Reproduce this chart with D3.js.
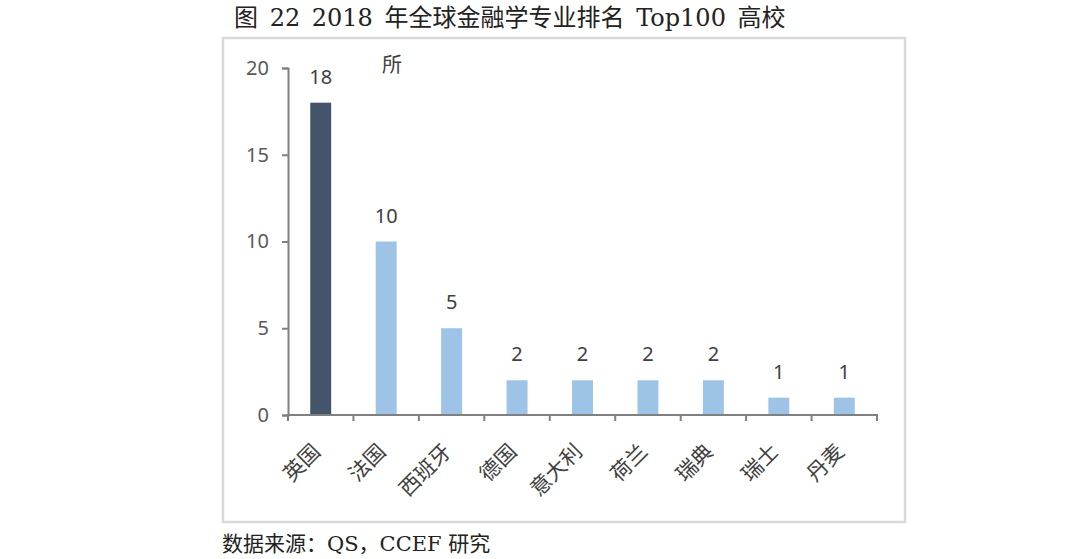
<!DOCTYPE html>
<html lang="zh">
<head>
<meta charset="UTF-8">
<title>2018年全球金融学专业排名Top100高校</title>
<script src="https://d3js.org/d3.v7.min.js"></script>
<style>
    body {
        margin: 0;
        padding: 0;
        background: #fff;
    }
    svg {
        display: block;
    }
    .cn {
        font-family: "DejaVu Serif", "Noto Sans CJK SC", serif;
    }
    .num {
        font-family: "Noto Sans", "Open Sans", sans-serif;
    }
</style>
</head>
<body>
<svg id="chart" width="1080" height="559"></svg>
<script>
    // data
    const countries = ["英国", "法国", "西班牙", "德国", "意大利", "荷兰", "瑞典", "瑞士", "丹麦"];
    const schools = [18, 10, 5, 2, 2, 2, 2, 1, 1];
    const yTicks = [0, 5, 10, 15, 20];

    const svg = d3.select("#chart");

    // outer frame round the chart
    svg.append("rect")
        .attr("x", 223).attr("y", 38)
        .attr("width", 682).attr("height", 484)
        .attr("fill", "#fff")
        .attr("stroke", "#d9d9d9")
        .attr("stroke-width", 2.5);

    svg.append("text")
        .attr("class", "cn")
        .attr("x", 234).attr("y", 26)
        .attr("font-size", 24)
        .attr("word-spacing", 4)
        .attr("fill", "#222")
        .text("图 22 2018 年全球金融学专业排名 Top100 高校");

    svg.append("text")
        .attr("class", "cn")
        .attr("x", 222).attr("y", 551)
        .attr("font-size", 21)
        .attr("fill", "#222")
        .text("数据来源：QS，CCEF 研究");

    const x = d3.scaleBand()
        .domain(countries)
        .range([288, 877])
        .paddingInner(0.68)
        .paddingOuter(0.34);

    const y = d3.scaleLinear()
        .domain([0, 20])
        .range([415, 68]);

    // bars
    svg.append("g")
        .selectAll("rect")
        .data(countries)
        .join("rect")
        .attr("x", d => x(d))
        .attr("y", (d, i) => y(schools[i]))
        .attr("width", x.bandwidth())
        .attr("height", (d, i) => y(0) - y(schools[i]))
        .attr("fill", (d, i) => i === 0 ? "#44546a" : "#9dc3e6");

    // value labels
    svg.append("g")
        .selectAll("text")
        .data(countries)
        .join("text")
        .attr("class", "num")
        .attr("x", d => x(d) + x.bandwidth() / 2)
        .attr("y", (d, i) => y(schools[i]) - 19)
        .attr("text-anchor", "middle")
        .attr("font-size", 20)
        .attr("fill", "#404040")
        .text((d, i) => schools[i]);

    // y axis
    const yAxis = svg.append("g")
        .attr("transform", "translate(288,0)")
        .call(d3.axisLeft(y).tickValues(yTicks).tickSize(6).tickPadding(13));
    yAxis.select(".domain").attr("stroke", "#808080").attr("stroke-width", 2);
    yAxis.selectAll(".tick line").attr("stroke", "#808080").attr("stroke-width", 2);
    yAxis.selectAll(".tick text")
        .attr("class", "num")
        .attr("font-size", 20)
        .attr("fill", "#595959");

    // x axis with ticks between categories
    const step = x.step();
    const xg = svg.append("g");
    xg.append("line")
        .attr("x1", 287).attr("x2", 878)
        .attr("y1", y(0)).attr("y2", y(0))
        .attr("stroke", "#808080").attr("stroke-width", 2);
    xg.selectAll("line.tk")
        .data(d3.range(countries.length + 1))
        .join("line")
        .attr("class", "tk")
        .attr("x1", i => 288 + i * step).attr("x2", i => 288 + i * step)
        .attr("y1", y(0)).attr("y2", y(0) + 6)
        .attr("stroke", "#808080").attr("stroke-width", 2);

    xg.selectAll("text")
        .data(countries)
        .join("text")
        .attr("font-family", "Noto Sans CJK SC, sans-serif")
        .attr("font-size", 21)
        .attr("fill", "#404040")
        .attr("text-anchor", "end")
        .attr("transform", d => `translate(${x(d) + x.bandwidth() / 2 + 1},${y(0) + 38}) rotate(-45)`)
        .text(d => d);

    // unit
    svg.append("text")
        .attr("font-family", "Noto Sans CJK SC, sans-serif")
        .attr("x", 392).attr("y", 72)
        .attr("text-anchor", "middle")
        .attr("font-size", 20)
        .attr("fill", "#404040")
        .text("所");
</script>
</body>
</html>
